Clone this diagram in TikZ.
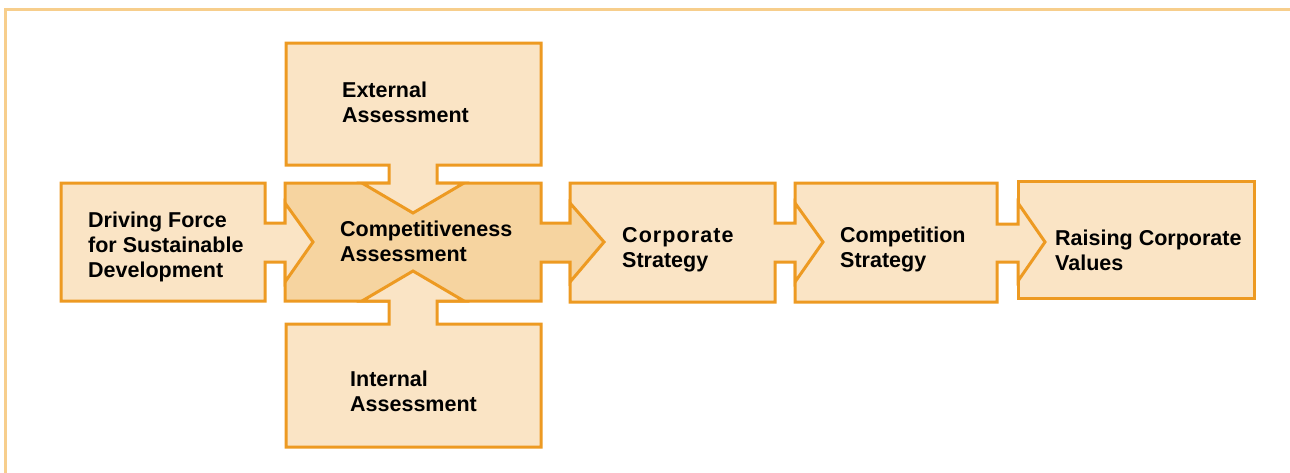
\documentclass[tikz,border=0pt]{standalone}
\usepackage{fontspec}
\setmainfont{Liberation Sans}
\definecolor{edgeor}{RGB}{237,154,34}
\definecolor{lightfill}{RGB}{250,228,197}
\definecolor{darkfill}{RGB}{246,212,160}
\definecolor{framecol}{RGB}{247,206,140}
\tikzset{
  panel/.style={draw=edgeor, line width=3pt, line join=miter, fill=lightfill},
  centerpanel/.style={panel, fill=darkfill},
  label/.style={anchor=north west, inner sep=0pt, align=left,
    font=\bfseries\fontsize{21.5}{25}\selectfont},
  frameline/.style={draw=framecol, line width=3pt}
}
\begin{document}
\begin{tikzpicture}[x=1pt,y=-1pt]
\useasboundingbox (0,0) rectangle (1290,472);
% outer frame
\draw[frameline] (5.5,480) -- (5.5,9.5) -- (1300,9.5);
% Raising Corporate Values
\path[panel] (1018,181) rectangle (1254,298);
% Competition Strategy with arrow
\path[panel] (795,183) -- (997,183) -- (997,224) -- (1018,224) -- (1018,203)
  -- (1045,242) -- (1018,281) -- (1018,262) -- (997,262) -- (997,302)
  -- (795,302) -- cycle;
% Corporate Strategy with arrow
\path[panel] (570,183) -- (775,183) -- (775,223) -- (795,223) -- (795,203)
  -- (823,242) -- (795,282) -- (795,262) -- (775,262) -- (775,302)
  -- (570,302) -- cycle;
% Competitiveness Assessment with arrow
\path[centerpanel] (285,183) -- (541,183) -- (541,223) -- (570,223) -- (570,203)
  -- (604,242) -- (570,282) -- (570,262) -- (541,262) -- (541,301)
  -- (285,301) -- cycle;
% Driving Force with arrow
\path[panel] (61,183) -- (265,183) -- (265,223) -- (285,223) -- (285,203)
  -- (313,242) -- (285,282) -- (285,262) -- (265,262) -- (265,301)
  -- (61,301) -- cycle;
% External Assessment with arrow
\path[panel] (286,43) -- (541,43) -- (541,165) -- (437,165) -- (437,183)
  -- (464,183) -- (413,213) -- (362,183) -- (389,183) -- (389,165)
  -- (286,165) -- cycle;
% Internal Assessment with arrow
\path[panel] (286,447) -- (541,447) -- (541,324) -- (437,324) -- (437,301)
  -- (464,301) -- (413,271) -- (362,301) -- (389,301) -- (389,324)
  -- (286,324) -- cycle;
% labels (north = first baseline - 17.5)
\node[label] (tdrive) at (88,209.5) {\strut Driving Force\\for Sustainable\\Development};
\node[label] (text) at (342,79.5) {\strut External\\Assessment};
\node[label] (tcomp) at (340,218.5) {\strut Competitiveness\\Assessment};
\node[label] (tint) at (350,368.5) {\strut Internal\\Assessment};
\node[label] (tcorp) at (622,224.5) {\strut {\addfontfeature{LetterSpace=5}Corporate}\\Strategy};
\node[label] (tcompet) at (840,224.5) {\strut Competition\\Strategy};
\node[label] (traise) at (1055,227.5) {\strut Raising Corporate\\Values};
\end{tikzpicture}
\end{document}
